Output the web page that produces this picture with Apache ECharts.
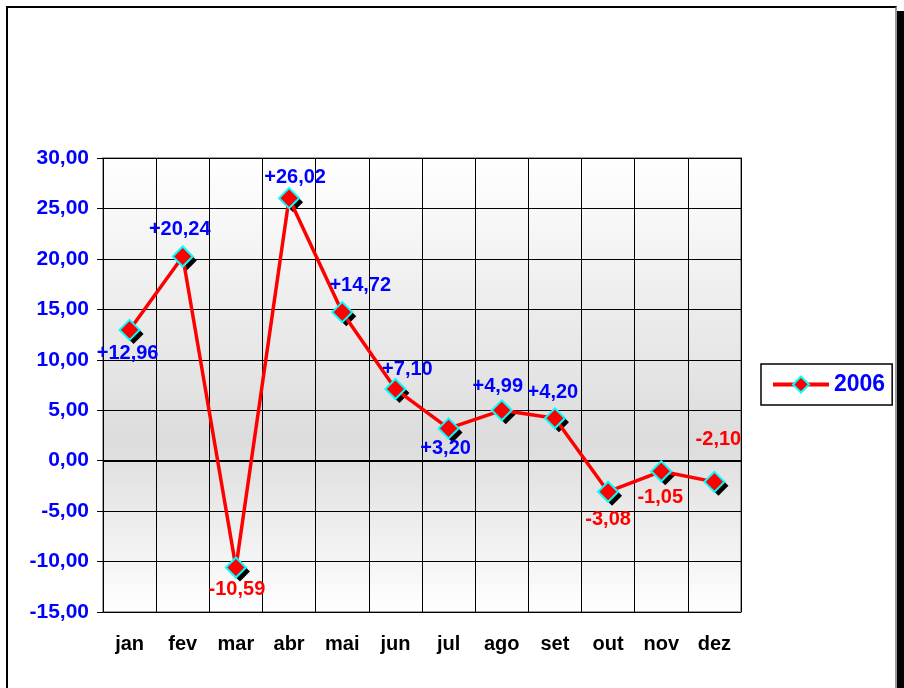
<!DOCTYPE html>
<html>
<head>
<meta charset="utf-8">
<script src="https://cdn.jsdelivr.net/npm/echarts@6/dist/echarts.min.js"></script>
<style>
html,body{margin:0;padding:0;background:#fff;}
#frame{position:absolute;left:6px;top:6px;width:891px;height:690px;border:2px solid #000;border-right-color:#999;box-sizing:border-box;}
#shadow{position:absolute;left:897px;top:11px;width:7px;height:677px;background:#000;}
#chart{position:absolute;left:0;top:0;width:904px;height:688px;}
</style>
</head>
<body>
<div id="shadow"></div>
<div id="frame"></div>
<div id="chart"></div>
<script>
const categories = ['jan','fev','mar','abr','mai','jun','jul','ago','set','out','nov','dez'];
const values2006 = [12.96, 20.24, -10.59, 26.02, 14.72, 7.10, 3.20, 4.99, 4.20, -3.08, -1.05, -2.10];
const labelPositions = ['bottom','top','bottom','top','top','top','bottom','top','top','bottom','bottom','top'];
const labelOffsets = [[-2,-3],[-3,0],[1,-5],[6,6],[18,0],[12,7],[-3,-7],[-4,3],[-2,1],[0,1],[-1,-1],[4,-15]];
const yTicks = {min:-15, max:30, interval:5};
const seriesName = '2006';

const fmt = v => v.toFixed(2).replace('.', ',');
const font = 'Liberation Sans, Arial, sans-serif';

const chart = echarts.init(document.getElementById('chart'), null, {renderer:'canvas'});
const data = values2006.map((v,i) => ({
  value: v,
  label: {
    position: labelPositions[i],
    offset: labelOffsets[i],
    color: v >= 0 ? '#0000ff' : '#ff0000'
  }
}));

chart.setOption({
  animation: false,
  grid: {
    left: 103, top: 158, width: 638, height: 454,
    show: true,
    borderColor: '#a0a0a0',
    borderWidth: 2,
    backgroundColor: {
      type: 'linear', x:0, y:0, x2:0, y2:1,
      colorStops: [
        {offset:0, color:'#ffffff'},
        {offset:0.62, color:'#dcdcdc'},
        {offset:1, color:'#ffffff'}
      ]
    }
  },
  legend: {
    show: true,
    left: 761, top: 364,
    padding: [9, 7, 9, 10],
    itemWidth: 56, itemHeight: 20,
    itemGap: 4,
    borderColor: '#000', borderWidth: 1.5,
    backgroundColor: '#fff',
    lineStyle: {width: 4, color: '#ff0000'},
    textStyle: {color:'#0000ff', fontFamily:font, fontWeight:'bold', fontSize:23},
    data: [seriesName]
  },
  xAxis: {
    type: 'category',
    data: categories,
    boundaryGap: true,
    axisLine: {show:false},
    axisTick: {show:false},
    axisLabel: {color:'#000', fontFamily:font, fontWeight:'bold', fontSize:20, margin:22},
    splitLine: {show:true, interval:0, lineStyle:{color:'#000', width:1}}
  },
  yAxis: {
    type: 'value',
    min: yTicks.min, max: yTicks.max, interval: yTicks.interval,
    axisLine: {show:false},
    axisTick: {show:true, length:6, lineStyle:{color:'#000', width:1}},
    axisLabel: {color:'#0000ff', fontFamily:font, fontWeight:'bold', fontSize:21, margin:14, formatter: fmt},
    splitLine: {show:true, lineStyle:{color:'#000', width:1}}
  },
  series: [{
    name: 'shadow',
    type: 'line',
    data: values2006,
    symbol: 'diamond',
    symbolSize: 20,
    symbolOffset: [4, 4],
    showSymbol: true,
    lineStyle: {width:0, opacity:0},
    itemStyle: {color:'#000', borderWidth:0},
    silent: true,
    z: 3
  }, {
    name: seriesName,
    type: 'line',
    data: data,
    symbol: 'diamond',
    symbolSize: 20,
    lineStyle: {color:'#ff0000', width:3.5},
    itemStyle: {color:'#ff0000', borderColor:'#00ffff', borderWidth:2},
    label: {
      show: true,
      fontFamily: font, fontWeight: 'bold', fontSize: 20,
      distance: 6,
      formatter: p => (p.value >= 0 ? '+' : '') + fmt(p.value)
    },
    markLine: {
      silent: true, symbol: 'none', label: {show:false},
      lineStyle: {color:'#000', width:2, type:'solid'},
      data: [{yAxis: 0}]
    },
    z: 5
  }]
});
</script>
</body>
</html>
